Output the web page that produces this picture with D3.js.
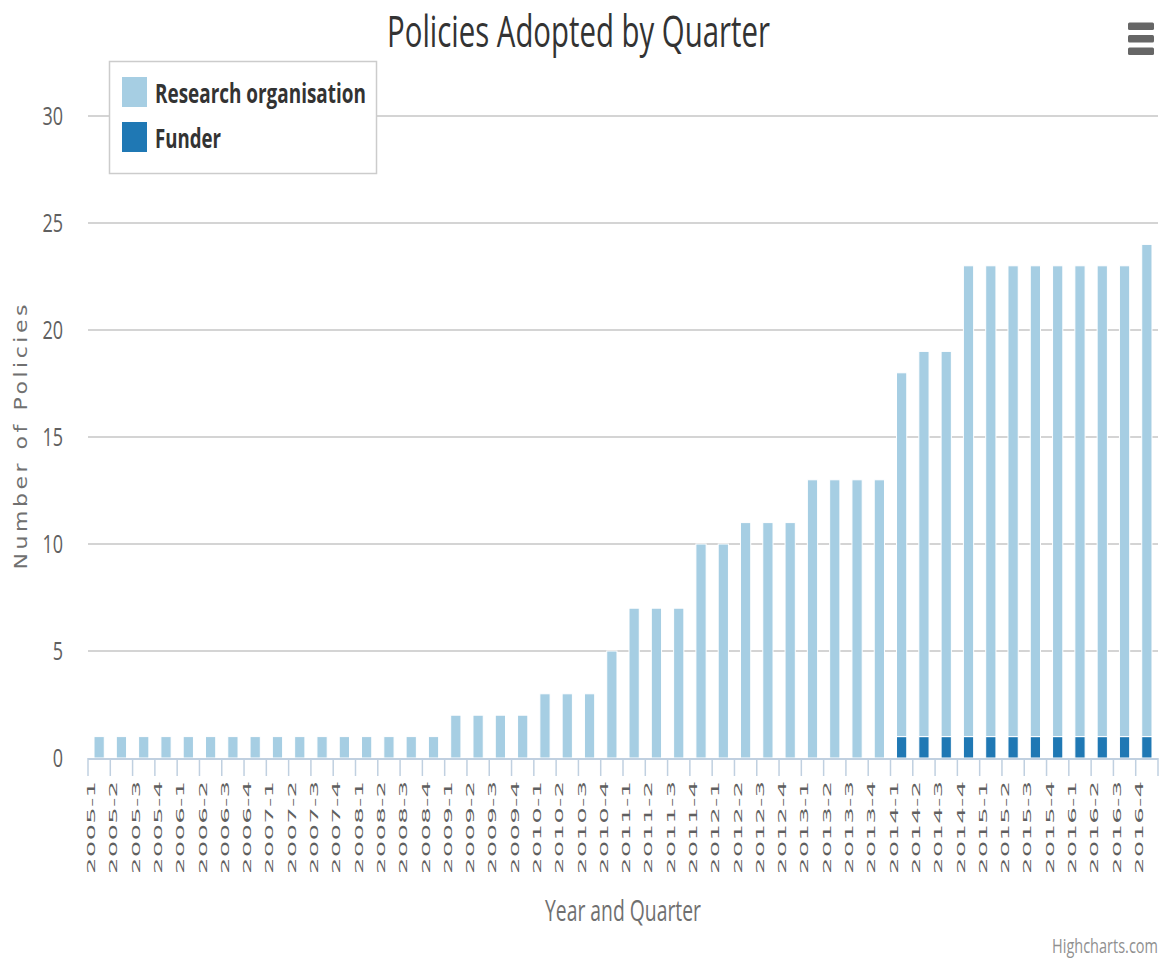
<!DOCTYPE html>
<html>
<head>
<meta charset="utf-8">
<title>Policies Adopted by Quarter</title>
<script src="https://cdn.jsdelivr.net/npm/d3@7"></script>
<style>
  html, body { margin: 0; padding: 0; background: #ffffff; }
  svg { display: block; }
</style>
</head>
<body>
<svg id="chart" width="1164" height="961"></svg>
<script>
// Quarter labels, 2005-1 through 2016-4
const quarters = [
  "2005-1","2005-2","2005-3","2005-4",
  "2006-1","2006-2","2006-3","2006-4",
  "2007-1","2007-2","2007-3","2007-4",
  "2008-1","2008-2","2008-3","2008-4",
  "2009-1","2009-2","2009-3","2009-4",
  "2010-1","2010-2","2010-3","2010-4",
  "2011-1","2011-2","2011-3","2011-4",
  "2012-1","2012-2","2012-3","2012-4",
  "2013-1","2013-2","2013-3","2013-4",
  "2014-1","2014-2","2014-3","2014-4",
  "2015-1","2015-2","2015-3","2015-4",
  "2016-1","2016-2","2016-3","2016-4"
];

// Cumulative policies held by research organisations
const researchOrganisation = [
  1,1,1,1, 1,1,1,1, 1,1,1,1, 1,1,1,1,
  2,2,2,2, 3,3,3,5, 7,7,7,10, 10,11,11,11,
  13,13,13,13, 17,18,18,22, 22,22,22,22, 22,22,22,23
];

// Cumulative policies held by funders
const funder = [
  0,0,0,0, 0,0,0,0, 0,0,0,0, 0,0,0,0,
  0,0,0,0, 0,0,0,0, 0,0,0,0, 0,0,0,0,
  0,0,0,0, 1,1,1,1, 1,1,1,1, 1,1,1,1
];

const seriesNames = ["Research organisation", "Funder"];
const seriesColors = ["#a6cee3", "#1f78b4"];
const yTicks = [0, 5, 10, 15, 20, 25, 30];

const svg = d3.select("#chart");
const plot = { left: 88, right: 1158, top: 116, bottom: 758 };

const x = d3.scaleBand().domain(quarters).range([plot.left, plot.right]).padding(0);
const y = d3.scaleLinear().domain([0, 30]).range([plot.bottom, plot.top]);

const condensed = "'Open Sans', 'DejaVu Sans', sans-serif";
const wide = "'DejaVu Sans', Verdana, sans-serif";

// Horizontal text squeezed to a given width with a scale transform
function narrowText(parent, opts) {
  const g = parent.append("g");
  const t = g.append("text")
    .attr("font-family", opts.family || condensed)
    .attr("font-size", opts.size)
    .attr("font-weight", opts.weight || "normal")
    .attr("fill", opts.fill)
    .attr("text-anchor", opts.anchor || "start")
    .text(opts.text);
  const natural = t.node().getComputedTextLength() || opts.width;
  const sx = opts.width / natural;
  g.attr("transform", `translate(${opts.x},${opts.y}) scale(${sx},1)`);
  return g;
}

// Gridlines
svg.append("g").selectAll("line").data(yTicks.filter(d => d > 0)).join("line")
  .attr("x1", plot.left).attr("x2", plot.right)
  .attr("y1", d => y(d)).attr("y2", d => y(d))
  .attr("stroke", "#d4d4d4").attr("stroke-width", 2);

// Y tick labels
const yLabels = svg.append("g");
yTicks.forEach(d => {
  narrowText(yLabels, {
    x: 63, y: y(d) + 9, anchor: "end", size: 25, fill: "#606060",
    width: String(d).length * 10.3, text: String(d)
  });
});

// Stacked data
const rows = quarters.map((q, i) => ({ q, research: researchOrganisation[i], funder: funder[i] }));
const stack = d3.stack().keys(["funder", "research"]);
const layers = stack(rows);
const colorByKey = { research: seriesColors[0], funder: seriesColors[1] };

const barW = x.bandwidth() * 0.46;
svg.append("g").selectAll("g").data(layers).join("g")
  .attr("fill", d => colorByKey[d.key])
  .selectAll("rect").data(d => d.filter(s => s[1] > s[0])).join("rect")
  .attr("x", d => x(d.data.q) + (x.bandwidth() - barW) / 2)
  .attr("y", d => y(d[1]))
  .attr("width", barW)
  .attr("height", d => y(d[0]) - y(d[1]))
  .attr("stroke", "#ffffff").attr("stroke-width", 1);

// X axis line and ticks
const axisColor = "#c0d0e0";
svg.append("line")
  .attr("x1", plot.left).attr("x2", plot.right)
  .attr("y1", plot.bottom + 1).attr("y2", plot.bottom + 1)
  .attr("stroke", axisColor).attr("stroke-width", 2);

const tickPositions = quarters.map(q => x(q)).concat([plot.right]);
svg.append("g").selectAll("line").data(tickPositions).join("line")
  .attr("x1", d => d).attr("x2", d => d)
  .attr("y1", plot.bottom).attr("y2", plot.bottom + 18)
  .attr("stroke", axisColor).attr("stroke-width", 1.5);

// X tick labels, rotated and narrowed across their thickness
svg.append("g").selectAll("text").data(quarters).join("text")
  .attr("transform", d => `translate(${x(d) + x.bandwidth() / 2 - 4},781) scale(0.38,1) rotate(-90)`)
  .attr("text-anchor", "end")
  .attr("font-family", wide)
  .attr("font-size", 26)
  .attr("fill", "#606060")
  .attr("textLength", 93)
  .attr("lengthAdjust", "spacing")
  .text(d => d);

// Title
narrowText(svg, {
  x: 578.5, y: 47, anchor: "middle", size: 44, fill: "#333333",
  width: 383, text: "Policies Adopted by Quarter"
});

// Axis titles
narrowText(svg, {
  x: (plot.left + plot.right) / 2, y: 921, anchor: "middle", size: 29, fill: "#707070",
  width: 156, text: "Year and Quarter"
});

svg.append("text")
  .attr("transform", `translate(27,${(plot.top + plot.bottom) / 2}) scale(0.8,1) rotate(-90)`)
  .attr("text-anchor", "middle")
  .attr("font-family", wide)
  .attr("font-size", 22)
  .attr("fill", "#707070")
  .attr("textLength", 265).attr("lengthAdjust", "spacing")
  .text("Number of Policies");

// Legend
const legend = svg.append("g");
legend.append("rect")
  .attr("x", 109.5).attr("y", 61.5).attr("width", 267).attr("height", 112)
  .attr("fill", "#ffffff").attr("stroke", "#cccccc").attr("stroke-width", 1.5);
const legendLengths = [211, 66];
seriesNames.forEach((name, i) => {
  legend.append("rect")
    .attr("x", 122).attr("y", 77 + i * 45).attr("width", 25).attr("height", 30)
    .attr("fill", seriesColors[i]);
  narrowText(legend, {
    x: 155, y: 103 + i * 45, size: 27, weight: "bold", fill: "#333333",
    width: legendLengths[i], text: name
  });
});

// Menu button
svg.append("g").selectAll("rect").data([0, 1, 2]).join("rect")
  .attr("x", 1128).attr("y", d => 22.5 + d * 12.5)
  .attr("width", 26).attr("height", 7.5).attr("rx", 1.5)
  .attr("fill", "#666666");

// Credits
narrowText(svg, {
  x: 1158, y: 953, anchor: "end", size: 20, fill: "#909090",
  width: 106, text: "Highcharts.com"
});
</script>
</body>
</html>
